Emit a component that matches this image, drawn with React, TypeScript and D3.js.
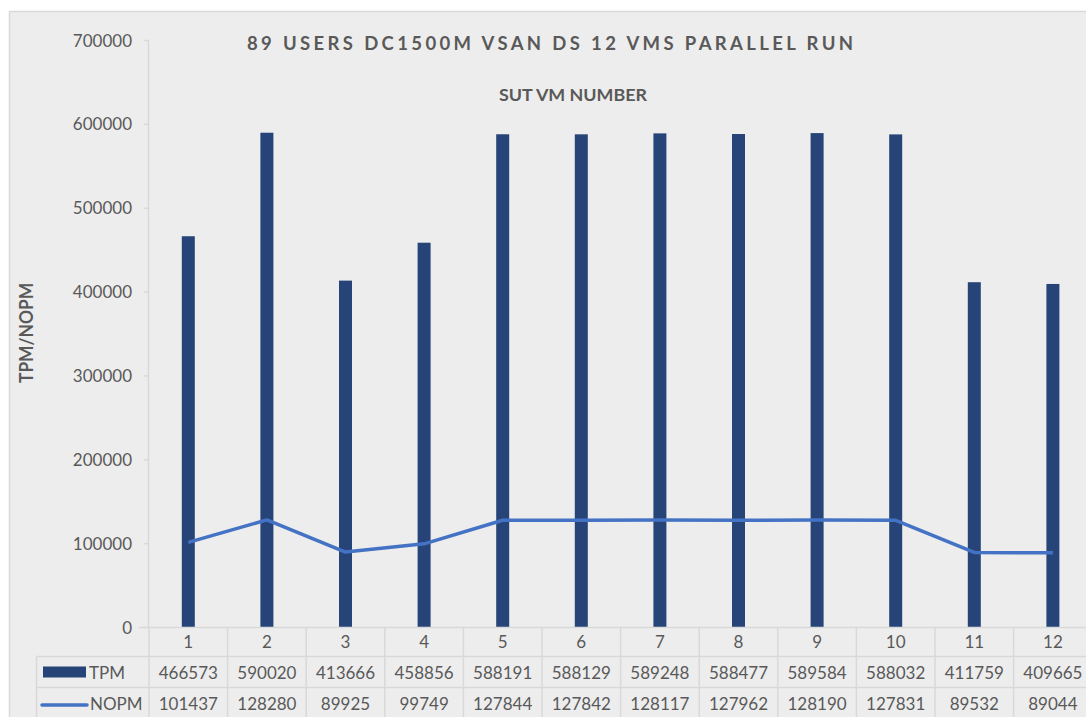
import React from "react";
import * as d3 from "d3";

const categories = ["1", "2", "3", "4", "5", "6", "7", "8", "9", "10", "11", "12"];
const tpm = [466573, 590020, 413666, 458856, 588191, 588129, 589248, 588477, 589584, 588032, 411759, 409665];
const nopm = [101437, 128280, 89925, 99749, 127844, 127842, 128117, 127962, 128190, 127831, 89532, 89044];
const yTicks = [0, 100000, 200000, 300000, 400000, 500000, 600000, 700000];

const W = 1086;
const H = 717;
const FONT = "Lato, 'Open Sans', sans-serif";
const TXT = "#595959";
const GRID = "#d9d9d9";
const BAR = "#264478";
const LINE = "#4472c4";

export default function App() {
  const left = 149;
  const colW = 78.6;
  const x = d3.scaleBand<string>().domain(categories).range([left, left + colW * categories.length]).paddingInner(0).paddingOuter(0);
  const y = d3.scaleLinear().domain([0, 700000]).range([627.5, 40.5]);
  const barW = 13;
  const line = d3
    .line<number>()
    .x((_, i) => (x(categories[i]) as number) + x.bandwidth() / 2)
    .y((d) => y(d));
  const row0 = 627.5;
  const row1 = 656.5;
  const row2 = 687.5;
  const tableLeft = 36.5;
  const fmt = d3.format("d");

  return (
    <div style={{ position: "absolute", left: 0, top: 0 }}>
      <svg width={W} height={H} style={{ display: "block" }}>
        <rect x={0} y={0} width={W} height={H} fill="#ffffff" />
        <rect x={9.5} y={11.5} width={W} height={H} fill="#ededed" stroke={GRID} strokeWidth={1.5} />
        {/* Title */}
        <text x={550} y={50} textAnchor="middle" fontFamily={FONT} fontWeight={700} fontSize={18.5} fill={TXT} textLength={606} lengthAdjust="spacing">
          89 USERS DC1500M VSAN DS 12 VMS PARALLEL RUN
        </text>
        <text x={573} y={101} textAnchor="middle" fontFamily={FONT} fontWeight={700} fontSize={17} fill={TXT} textLength={148} lengthAdjust="spacingAndGlyphs">
          SUT VM NUMBER
        </text>
        {/* Y axis title */}
        <text transform={`translate(33,333) rotate(-90)`} textAnchor="middle" fontFamily={FONT} fontWeight={700} fontSize={18} fill={TXT} textLength={100} lengthAdjust="spacingAndGlyphs">
          TPM/NOPM
        </text>
        {/* Y axis */}
        <line x1={left - 0.5} x2={left - 0.5} y1={y(700000)} y2={row0} stroke={GRID} strokeWidth={1.5} />
        {yTicks.map((t) => (
          <g key={t}>
            <line x1={left - 5} x2={left} y1={y(t)} y2={y(t)} stroke={GRID} strokeWidth={1.5} />
            <text x={132} y={y(t) + 6} textAnchor="end" fontFamily={FONT} fontSize={17} fill={TXT}>
              {fmt(t)}
            </text>
          </g>
        ))}
        {/* Bars */}
        {tpm.map((v, i) => (
          <rect
            key={i}
            x={(x(categories[i]) as number) + x.bandwidth() / 2 - barW / 2}
            y={y(v)}
            width={barW}
            height={y(0) - y(v)}
            fill={BAR}
          />
        ))}
        {/* Line */}
        <path d={line(nopm) || ""} fill="none" stroke={LINE} strokeWidth={3.5} strokeLinejoin="round" />
        {/* Data table */}
        <line x1={left - 10} x2={W} y1={row0} y2={row0} stroke={GRID} strokeWidth={1.5} />
        <line x1={tableLeft} x2={W} y1={row1} y2={row1} stroke={GRID} strokeWidth={1.5} />
        <line x1={tableLeft} x2={W} y1={row2} y2={row2} stroke={GRID} strokeWidth={1.5} />
        <line x1={tableLeft} x2={tableLeft} y1={row1} y2={H} stroke={GRID} strokeWidth={1.5} />
        {categories.map((c) => (
          <line key={"v" + c} x1={(x(c) as number)} x2={(x(c) as number)} y1={row0} y2={H} stroke={GRID} strokeWidth={1.5} />
        ))}
        {categories.map((c, i) => (
          <g key={"t" + c}>
            <text x={(x(c) as number) + x.bandwidth() / 2} y={row0 + 20} textAnchor="middle" fontFamily={FONT} fontSize={17} fill={TXT}>
              {c}
            </text>
            <text x={(x(c) as number) + x.bandwidth() / 2} y={row1 + 22} textAnchor="middle" fontFamily={FONT} fontSize={17} fill={TXT}>
              {fmt(tpm[i])}
            </text>
            <text x={(x(c) as number) + x.bandwidth() / 2} y={row2 + 22} textAnchor="middle" fontFamily={FONT} fontSize={17} fill={TXT}>
              {fmt(nopm[i])}
            </text>
          </g>
        ))}
        {/* Legend keys */}
        <rect x={43} y={666.5} width={43} height={11} fill={BAR} />
        <text x={89} y={row1 + 22} fontFamily={FONT} fontSize={17} fill={TXT}>TPM</text>
        <line x1={42} x2={87} y1={705} y2={705} stroke={LINE} strokeWidth={3.5} strokeLinecap="round" />
        <text x={90} y={row2 + 22} fontFamily={FONT} fontSize={17} fill={TXT}>NOPM</text>
      </svg>
    </div>
  );
}
